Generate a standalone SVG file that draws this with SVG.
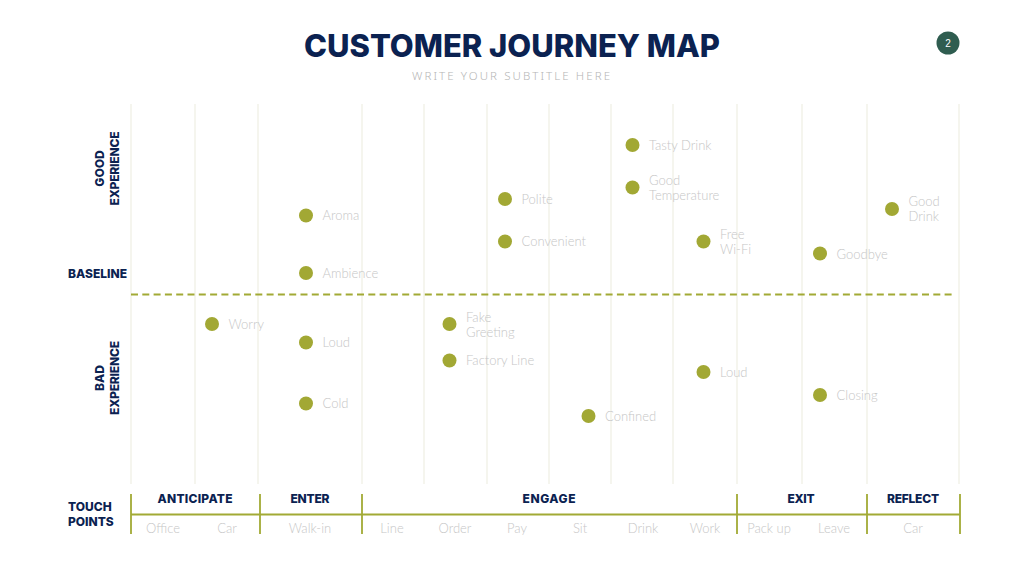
<svg xmlns="http://www.w3.org/2000/svg" width="1024" height="576" viewBox="0 0 1024 576">
<style>
text{font-family:"Lato","Liberation Sans",sans-serif}
.g{stroke:#f3f3ea;stroke-width:1.600;fill:none}
.a{stroke:#a2aa35;stroke-width:1.800;fill:none}
.d{fill:#a2a834}
.l{font-size:13px;font-weight:300;fill:#c6c6c6}
.c{text-anchor:middle}
.h{font-family:"Inter","Liberation Sans",sans-serif;font-size:12px;font-weight:800;fill:#0b2251}
</style>
<rect width="1024" height="576" fill="#fff"/>
<g id="title">
<text x="512" y="57" class="c" style="font-family:Inter,'Liberation Sans',sans-serif;font-size:31px;font-weight:800;fill:#0b2251" textLength="416" lengthAdjust="spacingAndGlyphs">CUSTOMER JOURNEY MAP</text>
<text x="511" y="80" class="c" style="font-family:'Noto Sans','Liberation Sans',sans-serif;font-size:11.500px;font-weight:300;fill:#b5b5b5" textLength="198">WRITE YOUR SUBTITLE HERE</text>
</g>
<g id="page"><circle cx="948" cy="43" r="11.500" fill="#2f5d50"/><text x="948" y="47" class="c" style="font-family:'Liberation Sans',sans-serif;font-size:10px;fill:#fff">2</text></g>
<g id="grid">
<path class="g" d="M131 104V484M195 104V484M258 104V484M362 104V484M424 104V484M487 104V484M549 104V484M611 104V484M673 104V484M737 104V484M802 104V484M867 104V484M959 104V484"/>
</g>
<g id="connectors">
<path class="a" d="M131 294.500H955" stroke-dasharray="7 4.300"/>
<path class="a" d="M131 514.500H960M131 494V534M260 494V534M362 494V534M737 494V534M867 494V534M960 494V534"/>
</g>
<g id="axis-labels">
<text class="h" transform="translate(104,168.500) rotate(-90)" text-anchor="middle">GOOD</text>
<text class="h" transform="translate(119,168.500) rotate(-90)" text-anchor="middle" textLength="74">EXPERIENCE</text>
<text class="h" x="68" y="277.500" textLength="59">BASELINE</text>
<text class="h" transform="translate(104,378) rotate(-90)" text-anchor="middle">BAD</text>
<text class="h" transform="translate(119,378) rotate(-90)" text-anchor="middle" textLength="74">EXPERIENCE</text>
<text class="h" x="68" y="510.500">TOUCH</text>
<text class="h" x="68" y="526">POINTS</text>
</g>
<g id="stages">
<text class="h c" x="195" y="502.500" textLength="75">ANTICIPATE</text>
<text class="h c" x="310" y="502.500" textLength="39">ENTER</text>
<text class="h c" x="549" y="502.500" textLength="53">ENGAGE</text>
<text class="h c" x="801" y="502.500" textLength="27">EXIT</text>
<text class="h c" x="913" y="502.500" textLength="52">REFLECT</text>
</g>
<g id="touchpoints">
<text class="l c" x="163" y="533">Office</text>
<text class="l c" x="227" y="533">Car</text>
<text class="l c" x="310" y="533">Walk-in</text>
<text class="l c" x="392" y="533">Line</text>
<text class="l c" x="455" y="533">Order</text>
<text class="l c" x="517" y="533">Pay</text>
<text class="l c" x="580" y="533">Sit</text>
<text class="l c" x="643" y="533">Drink</text>
<text class="l c" x="705" y="533">Work</text>
<text class="l c" x="769" y="533">Pack up</text>
<text class="l c" x="834" y="533">Leave</text>
<text class="l c" x="913" y="533">Car</text>
</g>
<g id="n-tasty"><circle class="d" cx="632.500" cy="145" r="7"/><text class="l" x="649" y="150">Tasty Drink</text></g>
<g id="n-temp"><circle class="d" cx="632.500" cy="187.500" r="7"/><text class="l" x="649" y="185">Good</text><text class="l" x="649" y="200">Temperature</text></g>
<g id="n-polite"><circle class="d" cx="505" cy="199" r="7"/><text class="l" x="521.500" y="204">Polite</text></g>
<g id="n-convenient"><circle class="d" cx="505" cy="241.500" r="7"/><text class="l" x="521.500" y="246">Convenient</text></g>
<g id="n-aroma"><circle class="d" cx="306" cy="215.500" r="7"/><text class="l" x="322.500" y="220">Aroma</text></g>
<g id="n-ambience"><circle class="d" cx="306" cy="273" r="7"/><text class="l" x="322.500" y="278">Ambience</text></g>
<g id="n-wifi"><circle class="d" cx="703.500" cy="241.500" r="7"/><text class="l" x="720" y="239">Free</text><text class="l" x="720" y="254">Wi-Fi</text></g>
<g id="n-goodbye"><circle class="d" cx="820" cy="253.500" r="7"/><text class="l" x="836.500" y="258.500">Goodbye</text></g>
<g id="n-gooddrink"><circle class="d" cx="892" cy="209" r="7"/><text class="l" x="908.500" y="206">Good</text><text class="l" x="908.500" y="221">Drink</text></g>
<g id="n-worry"><circle class="d" cx="212" cy="324" r="7"/><text class="l" x="228.500" y="329">Worry</text></g>
<g id="n-loud1"><circle class="d" cx="306" cy="342.500" r="7"/><text class="l" x="322.500" y="347">Loud</text></g>
<g id="n-cold"><circle class="d" cx="306" cy="403.500" r="7"/><text class="l" x="322.500" y="408">Cold</text></g>
<g id="n-fake"><circle class="d" cx="449.500" cy="324" r="7"/><text class="l" x="466" y="322">Fake</text><text class="l" x="466" y="337">Greeting</text></g>
<g id="n-factory"><circle class="d" cx="449.500" cy="360.500" r="7"/><text class="l" x="466" y="365">Factory Line</text></g>
<g id="n-confined"><circle class="d" cx="588.500" cy="416" r="7"/><text class="l" x="605" y="421">Confined</text></g>
<g id="n-loud2"><circle class="d" cx="703.500" cy="372" r="7"/><text class="l" x="720" y="377">Loud</text></g>
<g id="n-closing"><circle class="d" cx="820" cy="395" r="7"/><text class="l" x="836.500" y="400">Closing</text></g>
</svg>
